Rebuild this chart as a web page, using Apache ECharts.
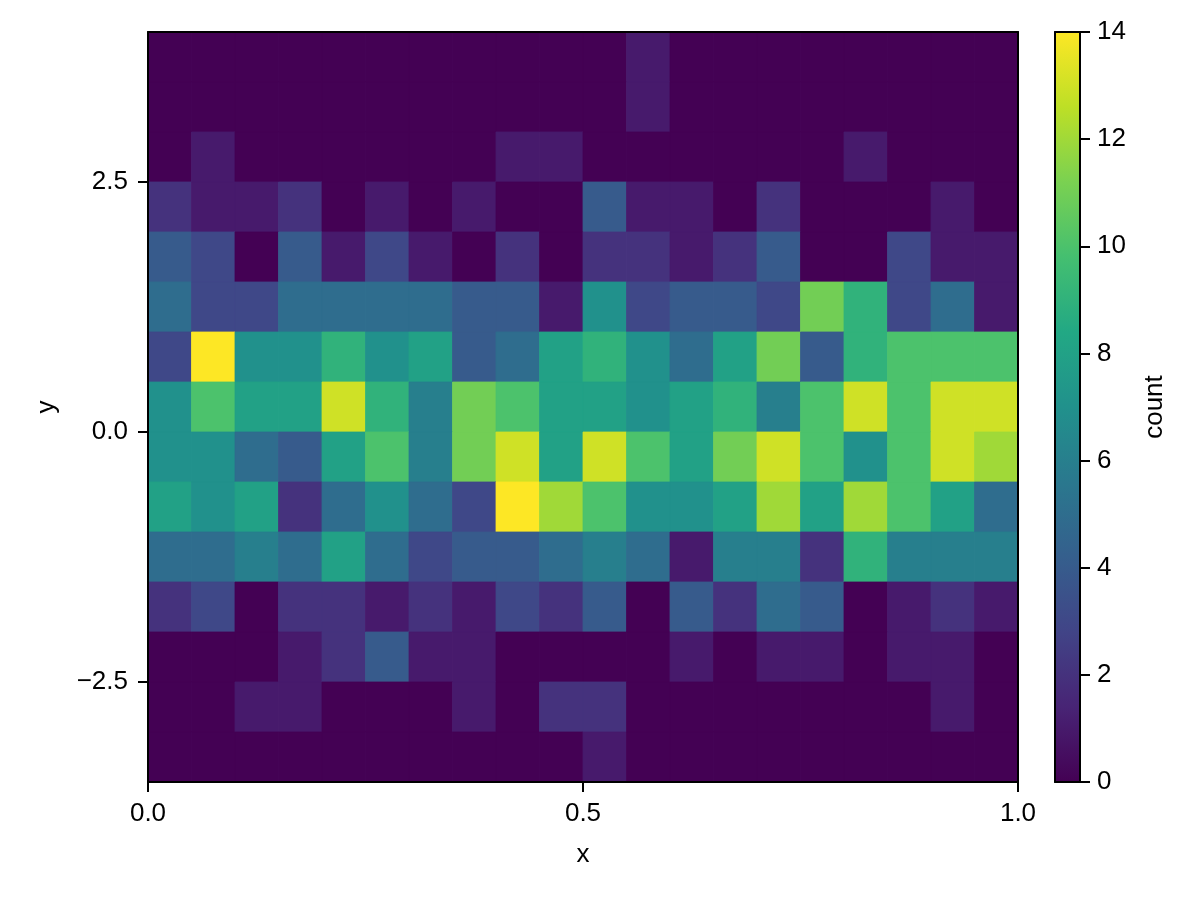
<!DOCTYPE html>
<html>
<head>
<meta charset="utf-8">
<script src="https://cdn.jsdelivr.net/npm/echarts@6/dist/echarts.min.js"></script>
<style>
  html, body { margin: 0; padding: 0; background: #fff; }
  #chart { width: 1200px; height: 900px; }
</style>
</head>
<body>
<div id="chart"></div>
<script>
// ---- data ----
const xEdges = [0.00, 0.05, 0.10, 0.15, 0.20, 0.25, 0.30, 0.35, 0.40, 0.45, 0.50,
                0.55, 0.60, 0.65, 0.70, 0.75, 0.80, 0.85, 0.90, 0.95, 1.00];
// rows from top (y = 4.0) to bottom (y = -3.5)
const yEdges = [4.0, 3.5, 3.0, 2.5, 2.0, 1.5, 1.0, 0.5, 0.0, -0.5, -1.0, -1.5, -2.0, -2.5, -3.0, -3.5];
const counts = [
  [0,0,0,0,0,0,0,0,0,0, 0,1,0,0,0,0,0,0,0,0],
  [0,0,0,0,0,0,0,0,0,0, 0,1,0,0,0,0,0,0,0,0],
  [0,1,0,0,0,0,0,0,1,1, 0,0,0,0,0,0,1,0,0,0],
  [2,1,1,2,0,1,0,1,0,0, 4,1,1,0,2,0,0,0,1,0],
  [4,3,0,4,1,3,1,0,2,0, 2,2,1,2,4,0,0,3,1,1],
  [5,3,3,5,5,5,5,4,4,1, 7,3,4,4,3,11,9,3,5,1],
  [3,14,7,7,9,7,8,4,5,8, 9,7,5,8,11,4,9,10,10,10],
  [7,10,8,8,13,9,6,11,10,8, 8,7,8,9,6,10,13,10,13,13],
  [7,7,5,4,8,10,6,11,13,8, 13,10,8,11,13,10,7,10,13,12],
  [8,7,8,2,5,7,5,3,14,12, 10,7,7,8,12,8,12,10,8,5],
  [5,5,6,5,8,5,3,4,4,5, 6,5,1,6,6,2,9,6,6,6],
  [2,3,0,2,2,1,2,1,3,2, 4,0,4,2,5,4,0,1,2,1],
  [0,0,0,1,2,4,1,1,0,0, 0,0,1,0,1,1,0,1,1,0],
  [0,0,1,1,0,0,0,1,0,2, 2,0,0,0,0,0,0,0,1,0],
  [0,0,0,0,0,0,0,0,0,0, 1,0,0,0,0,0,0,0,0,0]
];
const xTicks = [0, 0.5, 1];
const yTicks = [-2.5, 0, 2.5];
const cbarMin = 0, cbarMax = 14, cbarStep = 2;
const xLabel = 'x', yLabel = 'y', cbarLabel = 'count';
const viridis = ['#440154', '#482475', '#414487', '#355f8d', '#2a788e', '#21918c',
                 '#22a884', '#44bf70', '#7ad151', '#bddf26', '#fde725'];

// ---- build series data: [x0, x1, y0(bottom), y1(top), count] ----
const cells = [];
for (let r = 0; r < counts.length; r++) {
  for (let c = 0; c < counts[r].length; c++) {
    cells.push([xEdges[c], xEdges[c + 1], yEdges[r + 1], yEdges[r], counts[r][c]]);
  }
}

const FONT = "'Liberation Sans', Arial, Helvetica, sans-serif";
const FS = 26;
const LINE = { color: '#000', width: 2 };

function fmt1(v) {
  return (v < 0 ? '\u2212' : '') + Math.abs(v).toFixed(1);
}

const chart = echarts.init(document.getElementById('chart'), null, { renderer: 'canvas' });

const option = {
  backgroundColor: '#fff',
  animation: false,
  textStyle: { fontFamily: FONT, color: '#000' },
  grid: [
    { left: 148, top: 32, width: 870, height: 750 },
    { left: 1055, top: 32, width: 25, height: 750 }
  ],
  visualMap: {
    type: 'continuous', show: false, min: cbarMin, max: cbarMax,
    dimension: 4, seriesIndex: 0, inRange: { color: viridis }
  },
  xAxis: [
    {
      gridIndex: 0, type: 'value', min: 0, max: 1, interval: 0.5, position: 'bottom', z: 10,
      axisLine: { show: true, onZero: false, lineStyle: LINE },
      axisTick: { show: true, length: 10, lineStyle: LINE, customValues: xTicks },
      axisLabel: { fontSize: FS, color: '#000', fontFamily: FONT, margin: 19, formatter: fmt1, customValues: xTicks },
      splitLine: { show: false },
      name: xLabel, nameLocation: 'middle', nameGap: 60,
      nameTextStyle: { fontSize: FS, color: '#000', fontFamily: FONT }
    },
    {
      gridIndex: 0, type: 'value', min: 0, max: 1, position: 'top', z: 10,
      axisLine: { show: true, onZero: false, lineStyle: LINE },
      axisTick: { show: false }, axisLabel: { show: false }, splitLine: { show: false }
    },
    {
      gridIndex: 1, type: 'value', min: 0, max: 1, position: 'bottom', z: 10,
      axisLine: { show: true, onZero: false, lineStyle: LINE },
      axisTick: { show: false }, axisLabel: { show: false }, splitLine: { show: false }
    },
    {
      gridIndex: 1, type: 'value', min: 0, max: 1, position: 'top', z: 10,
      axisLine: { show: true, onZero: false, lineStyle: LINE },
      axisTick: { show: false }, axisLabel: { show: false }, splitLine: { show: false }
    }
  ],
  yAxis: [
    {
      gridIndex: 0, type: 'value', min: -3.5, max: 4, position: 'left', z: 10,
      axisLine: { show: true, onZero: false, lineStyle: LINE },
      axisTick: { show: true, length: 10, lineStyle: LINE, customValues: yTicks },
      axisLabel: { fontSize: FS, color: '#000', fontFamily: FONT, margin: 20, formatter: fmt1, customValues: yTicks },
      splitLine: { show: false },
      name: yLabel, nameLocation: 'middle', nameGap: 88, nameRotate: 90,
      nameTextStyle: { fontSize: FS, color: '#000', fontFamily: FONT }
    },
    {
      gridIndex: 0, type: 'value', min: -3.5, max: 4, position: 'right', z: 10,
      axisLine: { show: true, onZero: false, lineStyle: LINE },
      axisTick: { show: false }, axisLabel: { show: false }, splitLine: { show: false }
    },
    {
      gridIndex: 1, type: 'value', min: cbarMin, max: cbarMax, interval: cbarStep, position: 'right', z: 10,
      axisLine: { show: true, onZero: false, lineStyle: LINE },
      axisTick: { show: true, length: 10, lineStyle: LINE },
      axisLabel: { fontSize: FS, color: '#000', fontFamily: FONT, margin: 17 },
      splitLine: { show: false },
      name: cbarLabel, nameLocation: 'middle', nameGap: 62, nameRotate: 90,
      nameTextStyle: { fontSize: FS, color: '#000', fontFamily: FONT }
    },
    {
      gridIndex: 1, type: 'value', min: cbarMin, max: cbarMax, position: 'left', z: 10,
      axisLine: { show: true, onZero: false, lineStyle: LINE },
      axisTick: { show: false }, axisLabel: { show: false }, splitLine: { show: false }
    }
  ],
  series: [
    {
      type: 'custom', xAxisIndex: 0, yAxisIndex: 0,
      encode: { x: [0, 1], y: [2, 3] },
      data: cells,
      renderItem: function (params, api) {
        const pTL = api.coord([api.value(0), api.value(3)]);
        const pBR = api.coord([api.value(1), api.value(2)]);
        const col = api.visual('color');
        return {
          type: 'rect',
          shape: { x: pTL[0], y: pTL[1], width: pBR[0] - pTL[0], height: pBR[1] - pTL[1] },
          style: { fill: col, stroke: col, lineWidth: 0.8 }
        };
      }
    },
    {
      type: 'custom', xAxisIndex: 2, yAxisIndex: 2,
      encode: { x: [0, 1], y: [2, 3] },
      data: [[0, 1, cbarMin, cbarMax]],
      renderItem: function (params, api) {
        const pTL = api.coord([api.value(0), api.value(3)]);
        const pBR = api.coord([api.value(1), api.value(2)]);
        const stops = viridis.map((c, i) => ({ offset: i / (viridis.length - 1), color: c }));
        return {
          type: 'rect',
          shape: { x: pTL[0], y: pTL[1], width: pBR[0] - pTL[0], height: pBR[1] - pTL[1] },
          style: { fill: new echarts.graphic.LinearGradient(0, 1, 0, 0, stops) }
        };
      }
    }
  ]
};

chart.setOption(option);
</script>
</body>
</html>
